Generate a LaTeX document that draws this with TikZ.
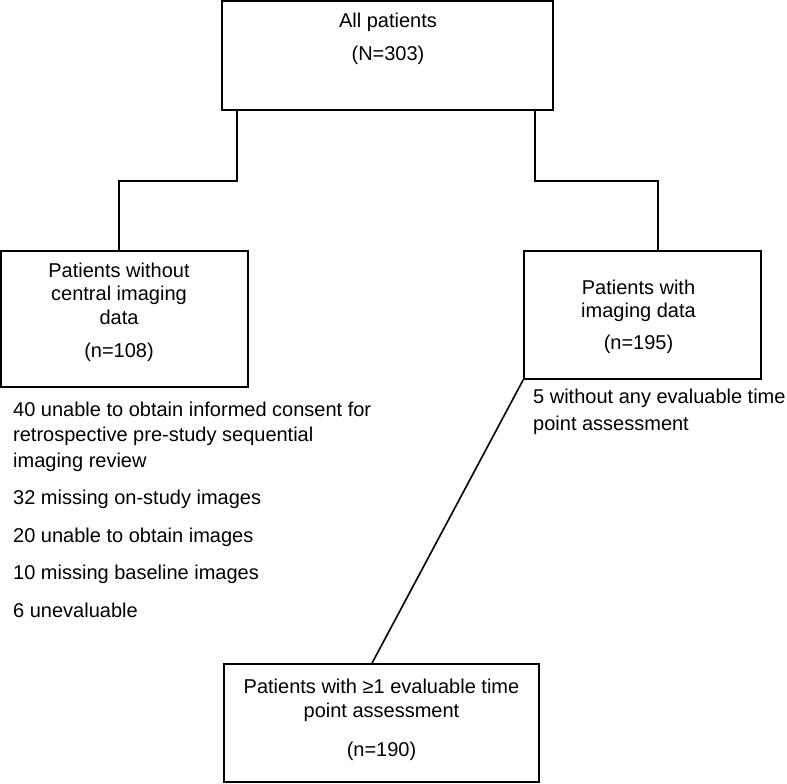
\documentclass[tikz,border=0pt]{standalone}
\usepackage{fontspec}
\setmainfont{Liberation Sans}
\begin{document}
\begin{tikzpicture}[x=1pt,y=-1pt]
\tikzstyle{box} = [draw, rectangle, line width=1.6pt, inner sep=0pt];
\tikzstyle{boxtext} = [align=center, inner sep=0pt, font=\fontsize{20}{23.5}\selectfont];
\tikzstyle{note} = [align=left, inner sep=0pt, font=\fontsize{20}{25.5}\selectfont];
\tikzstyle{link} = [draw, line width=1.6pt];
\useasboundingbox (0,0) rectangle (787,784);
\node[box, minimum width=331pt, minimum height=109pt] (all) at (387.5,55.5) {};
\node[box, minimum width=247pt, minimum height=136pt] (without) at (124.5,319) {};
\node[box, minimum width=237pt, minimum height=128pt] (with) at (642.5,315) {};
\node[box, minimum width=315pt, minimum height=118pt] (eval) at (381.5,723) {};
\node[boxtext, anchor=base] (allt) at (388,61) {All patients\\[9.5pt](N=303)};
\node[boxtext, anchor=base] (withoutt) at (119,357) {Patients without\\central imaging\\data\\[9.5pt](n=108)};
\node[boxtext, anchor=base] (witht) at (638.5,349) {Patients with\\imaging data\\[8pt](n=195)};
\node[boxtext, anchor=base] (evalt) at (381.5,756) {Patients with ≥1 evaluable time\\point assessment\\[15.5pt](n=190)};
\node[note, anchor=base west] (reasons) at (13,617) {40 unable to obtain informed consent for\\retrospective pre-study sequential\\imaging review\\[12pt]32 missing on-study images\\[12pt]20 unable to obtain images\\[12pt]10 missing baseline images\\[12pt]6 unevaluable};
\node[note, anchor=base west] (noeval) at (533,430) {5 without any evaluable time\\[1.5pt]point assessment};
\draw[link] ([xshift=16pt]all.south west) -- ++(0,70) -| ([xshift=-5.5pt]without.north);
\draw[link] ([xshift=-19pt]all.south east) -- ++(0,70) -| ([xshift=15.5pt]with.north);
\draw[link] (with.south west) -- ([xshift=-9.5pt]eval.north);
\end{tikzpicture}
\end{document}
